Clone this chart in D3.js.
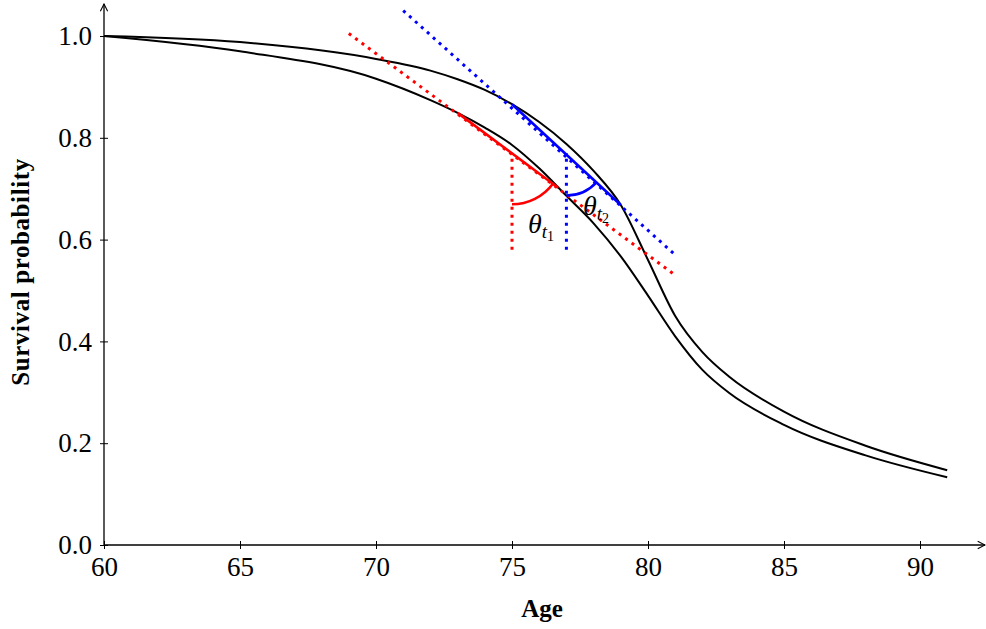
<!DOCTYPE html>
<html>
<head>
<meta charset="utf-8">
<script src="https://cdn.jsdelivr.net/npm/d3@7"></script>
<style>body{margin:0;background:#fff} text{font-family:"Liberation Serif","DejaVu Serif",serif}</style>
</head>
<body>
<svg id="fig" width="986" height="629"></svg>
<script>
// survival curves
const ages = [60, 65, 70, 72, 73, 74, 75, 76, 77, 78, 79, 80, 81, 82, 83, 85, 88, 91];
const upper = [1.0, 0.988, 0.955, 0.932, 0.915, 0.894, 0.866, 0.831, 0.788, 0.735, 0.668, 0.56, 0.45, 0.379, 0.33, 0.262, 0.195, 0.147];
const lower = [1.0, 0.97, 0.916, 0.874, 0.849, 0.82, 0.786, 0.74, 0.686, 0.632, 0.567, 0.49, 0.41, 0.344, 0.298, 0.236, 0.176, 0.133];
const xTicks = [60, 65, 70, 75, 80, 85, 90];
const yTicks = [0, 0.2, 0.4, 0.6, 0.8, 1.0];

// tangents / chords
const redDot = [[69, 1.005], [81, 0.53]];
const redChord = [[73, 0.849], [76.7, 0.702]];
const redVert = [[75, 0.58], [75, 0.77]];
const blueDot = [[71, 1.05], [81, 0.57]];
const blueChord = [[75, 0.866], [79, 0.668]];
const blueVert = [[77, 0.58], [77, 0.77]];

const svg = d3.select("#fig");
const x = d3.scaleLinear().domain([60, 90]).range([104, 920]);
const y = d3.scaleLinear().domain([0, 1]).range([545, 36]);

svg.append("defs").append("marker").attr("id", "arr")
  .attr("viewBox", "0 0 10 10").attr("refX", 9).attr("refY", 5)
  .attr("markerWidth", 7).attr("markerHeight", 7).attr("orient", "auto")
  .append("path").attr("d", "M1,1 L9,5 L1,9").attr("fill", "none").attr("stroke", "#000").attr("stroke-width", 1.2);

// axes
svg.append("line").attr("x1", 104).attr("y1", 545).attr("x2", 985).attr("y2", 545)
  .attr("stroke", "#000").attr("stroke-width", 1.3).attr("marker-end", "url(#arr)");
svg.append("line").attr("x1", 104).attr("y1", 545).attr("x2", 104).attr("y2", 4)
  .attr("stroke", "#000").attr("stroke-width", 1.3).attr("marker-end", "url(#arr)");

const xg = svg.append("g").attr("transform", "translate(0,545)")
  .call(d3.axisBottom(x).tickValues(xTicks).tickSize(4).tickSizeOuter(0).tickPadding(8));
const yg = svg.append("g").attr("transform", "translate(104,0)")
  .call(d3.axisLeft(y).tickValues(yTicks).tickFormat(d3.format(".1f")).tickSize(4).tickSizeOuter(0).tickPadding(8));
[xg, yg].forEach(g => {
  g.select(".domain").remove();
  g.attr("font-family", null).attr("font-size", 27);
  g.selectAll("text").attr("font-size", 27).attr("fill", "#000");
});
xg.selectAll(".tick line").attr("y1", -4);
yg.selectAll(".tick line").attr("x1", 4);

svg.append("text").attr("x", 542).attr("y", 617).attr("text-anchor", "middle")
  .attr("font-size", 25).attr("font-weight", "bold").text("Age");
svg.append("text").attr("transform", "translate(29,272) rotate(-90)").attr("text-anchor", "middle")
  .attr("font-size", 25).attr("letter-spacing", 0.6).attr("font-weight", "bold").text("Survival probability");

const line = d3.line().x(d => x(d[0])).y(d => y(d[1]));
const curve = d3.line().x(d => x(d[0])).y(d => y(d[1])).curve(d3.curveMonotoneX);

[upper, lower].forEach(s => {
  svg.append("path").attr("d", curve(ages.map((a, i) => [a, s[i]])))
    .attr("fill", "none").attr("stroke", "#000").attr("stroke-width", 2);
});

function seg(pts, col, dotted) {
  svg.append("path").attr("d", line(pts)).attr("fill", "none").attr("stroke", col)
    .attr("stroke-width", dotted ? 3 : 2.6).attr("stroke-dasharray", dotted ? "3,5" : null);
}
seg(redDot, "#f00", true); seg(redVert, "#f00", true); seg(redChord, "#f00", false);
seg(blueDot, "#00f", true); seg(blueVert, "#00f", true); seg(blueChord, "#00f", false);

function arc(vert, chord, r, col) {
  const slope = (chord[1][1] - chord[0][1]) / (chord[1][0] - chord[0][0]);
  const cy = chord[0][1] + slope * (vert[0][0] - chord[0][0]);
  const cx = x(vert[0][0]), cyp = y(cy);
  const dx = x(chord[1][0]) - x(chord[0][0]), dy = y(chord[1][1]) - y(chord[0][1]);
  const L = Math.hypot(dx, dy);
  const ex = cx + r * dx / L, ey = cyp + r * dy / L;
  svg.append("path").attr("d", `M${cx},${cyp + r} A${r},${r} 0 0 0 ${ex},${ey}`)
    .attr("fill", "none").attr("stroke", col).attr("stroke-width", 2.6);
}
arc(redVert, redChord, 51, "#f00");
arc(blueVert, blueChord, 41, "#00f");

function theta(px, py, sub) {
  const t = svg.append("text").attr("x", px).attr("y", py).attr("font-size", 28).attr("font-style", "italic");
  t.append("tspan").text("θ");
  t.append("tspan").attr("font-size", 19).attr("dy", 5).text("t");
  t.append("tspan").attr("font-size", 14).attr("dy", 3).attr("font-style", "normal").text(sub);
}
theta(528, 233, "1");
theta(583, 215, "2");
</script>
</body>
</html>
